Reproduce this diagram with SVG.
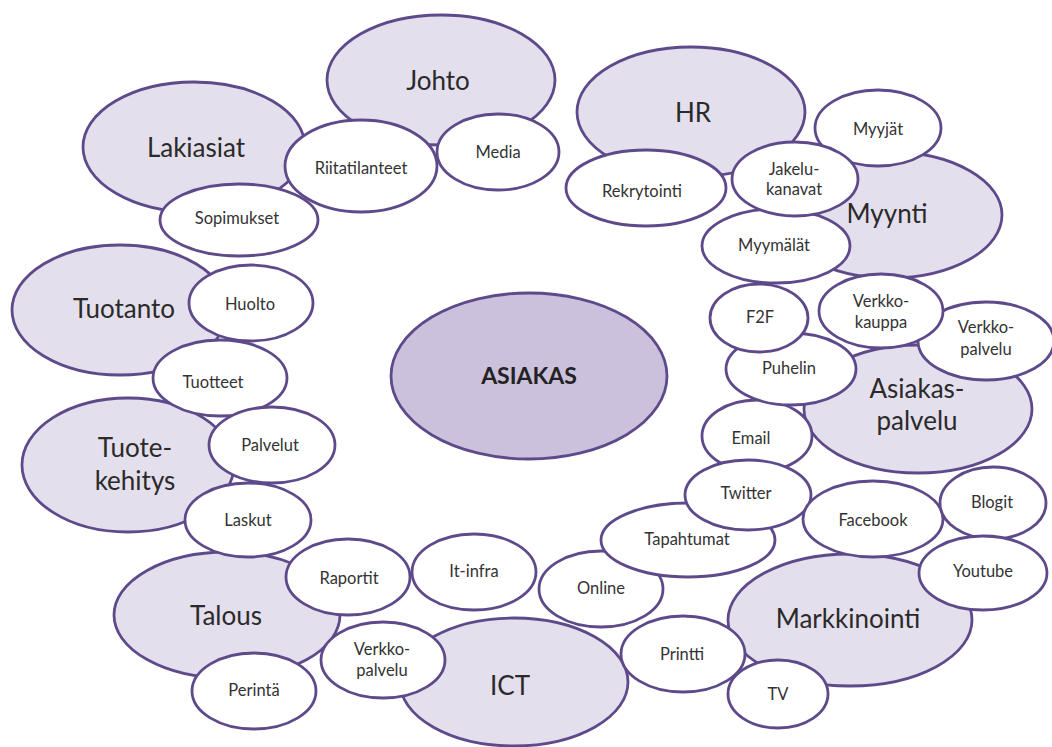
<svg xmlns="http://www.w3.org/2000/svg" width="1052" height="747" viewBox="0 0 1052 747">
<style>
ellipse{stroke:#5e4a8a;stroke-width:2.8}
.big ellipse{fill:#e4dfec}
.small ellipse{fill:#ffffff}
.core ellipse{fill:#cbc1dc}
text{font-family:Lato,"Open Sans","Liberation Sans",sans-serif;fill:#2a2a2a;text-anchor:middle}
.big text{font-size:26px}
.small text{font-size:16.5px;fill:#333}
.core text{font-size:23px;font-weight:bold;fill:#222}
</style>
<rect width="1052" height="747" fill="#ffffff"/>
<g id="connectors"></g>
<!-- main areas -->
<g id="johto" class="big"><ellipse cx="441" cy="80" rx="114" ry="65"/><text x="438" y="90">Johto</text></g>
<g id="lakiasiat" class="big"><ellipse cx="194" cy="147" rx="111" ry="65"/><text x="196" y="157">Lakiasiat</text></g>
<g id="hr" class="big"><ellipse cx="691" cy="112" rx="114" ry="65"/><text x="693" y="122">HR</text></g>
<g id="myynti" class="big"><ellipse cx="890" cy="215" rx="112" ry="63"/><text x="887" y="223">Myynti</text></g>
<g id="tuotanto" class="big"><ellipse cx="120" cy="310" rx="108" ry="65"/><text x="124" y="318">Tuotanto</text></g>
<g id="tuotekehitys" class="big"><ellipse cx="128" cy="465" rx="106" ry="67"/><text x="135" y="457">Tuote-</text><text x="135" y="490">kehitys</text></g>
<g id="asiakaspalvelu" class="big"><ellipse cx="918" cy="409" rx="114" ry="64"/><text x="917" y="398">Asiakas-</text><text x="917" y="430">palvelu</text></g>
<g id="talous" class="big"><ellipse cx="227" cy="615" rx="113" ry="63"/><text x="226" y="625">Talous</text></g>
<g id="markkinointi" class="big"><ellipse cx="850" cy="620" rx="122" ry="66"/><text x="848" y="628">Markkinointi</text></g>
<g id="ict" class="big"><ellipse cx="514" cy="682" rx="114" ry="64"/><text x="510" y="695">ICT</text></g>
<!-- center -->
<g id="asiakas" class="core"><ellipse cx="529" cy="376" rx="138" ry="83"/><text x="529" y="384">ASIAKAS</text></g>
<!-- sub items -->
<g id="media" class="small"><ellipse cx="498" cy="152" rx="61" ry="38"/><text x="498" y="158">Media</text></g>
<g id="riitatilanteet" class="small"><ellipse cx="361" cy="166" rx="76" ry="46"/><text x="361" y="174">Riitatilanteet</text></g>
<g id="sopimukset" class="small"><ellipse cx="239" cy="220" rx="79" ry="36"/><text x="237" y="224">Sopimukset</text></g>
<g id="rekrytointi" class="small"><ellipse cx="646" cy="188" rx="80" ry="38"/><text x="642" y="197">Rekrytointi</text></g>
<g id="myyjat" class="small"><ellipse cx="878" cy="128" rx="63" ry="38"/><text x="878" y="135">Myyjät</text></g>
<g id="myymalat" class="small"><ellipse cx="776" cy="246" rx="74" ry="37"/><text x="774" y="251">Myymälät</text></g>
<g id="jakelukanavat" class="small"><ellipse cx="795" cy="179" rx="63" ry="37"/><text x="794" y="175">Jakelu-</text><text x="794" y="195">kanavat</text></g>
<g id="huolto" class="small"><ellipse cx="251" cy="303" rx="62" ry="38"/><text x="250" y="310">Huolto</text></g>
<g id="tuotteet" class="small"><ellipse cx="220" cy="378" rx="67" ry="38"/><text x="213" y="388">Tuotteet</text></g>
<g id="palvelut" class="small"><ellipse cx="272" cy="445" rx="63" ry="38"/><text x="270" y="451">Palvelut</text></g>
<g id="laskut" class="small"><ellipse cx="248" cy="520" rx="63" ry="37"/><text x="248" y="526">Laskut</text></g>
<g id="raportit" class="small"><ellipse cx="348" cy="577" rx="62" ry="38"/><text x="349" y="584">Raportit</text></g>
<g id="it-infra" class="small"><ellipse cx="474" cy="572" rx="62" ry="38"/><text x="474" y="577">It-infra</text></g>
<g id="perinta" class="small"><ellipse cx="254" cy="691" rx="62" ry="38"/><text x="254" y="696">Perintä</text></g>
<g id="verkkopalvelu-ict" class="small"><ellipse cx="383" cy="660" rx="62" ry="38"/><text x="382" y="655">Verkko-</text><text x="382" y="676">palvelu</text></g>
<g id="online" class="small"><ellipse cx="601" cy="589" rx="62" ry="38"/><text x="601" y="594">Online</text></g>
<g id="tapahtumat" class="small"><ellipse cx="688" cy="540" rx="87" ry="37"/><text x="687" y="545">Tapahtumat</text></g>
<g id="email" class="small"><ellipse cx="757" cy="436" rx="55" ry="36"/><text x="751" y="444">Email</text></g>
<g id="twitter" class="small"><ellipse cx="748" cy="495" rx="63" ry="35"/><text x="746" y="499">Twitter</text></g>
<g id="verkkopalvelu-ap" class="small"><ellipse cx="986" cy="341" rx="68" ry="39"/><text x="986" y="333">Verkko-</text><text x="986" y="355">palvelu</text></g>
<g id="verkkokauppa" class="small"><ellipse cx="881" cy="311" rx="62" ry="37"/><text x="881" y="307">Verkko-</text><text x="881" y="328">kauppa</text></g>
<g id="puhelin" class="small"><ellipse cx="791" cy="369" rx="65" ry="36"/><text x="789" y="374">Puhelin</text></g>
<g id="f2f" class="small"><ellipse cx="759" cy="318" rx="49" ry="34"/><text x="760" y="323">F2F</text></g>
<g id="facebook" class="small"><ellipse cx="873" cy="519" rx="70" ry="38"/><text x="873" y="526">Facebook</text></g>
<g id="blogit" class="small"><ellipse cx="993" cy="503" rx="53" ry="36"/><text x="992" y="508">Blogit</text></g>
<g id="youtube" class="small"><ellipse cx="983" cy="573" rx="64" ry="37"/><text x="983" y="577">Youtube</text></g>
<g id="printti" class="small"><ellipse cx="683" cy="654" rx="62" ry="38"/><text x="682" y="660">Printti</text></g>
<g id="tv" class="small"><ellipse cx="778" cy="694" rx="50" ry="34"/><text x="778" y="700">TV</text></g>
</svg>
